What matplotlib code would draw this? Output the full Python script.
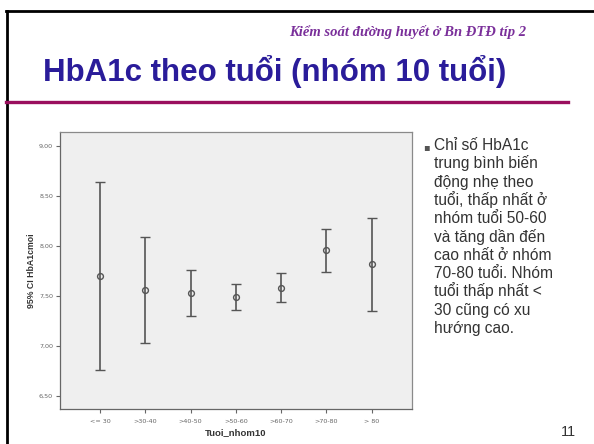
import matplotlib
matplotlib.use("Agg")
import matplotlib.pyplot as plt
from matplotlib.lines import Line2D
import numpy as np

W, H = 594, 444

categories = ["<= 30", ">30-40", ">40-50", ">50-60", ">60-70", ">70-80", "> 80"]
means = [7.70, 7.56, 7.53, 7.49, 7.58, 7.96, 7.82]
upper = [8.64, 8.09, 7.76, 7.62, 7.73, 8.17, 8.28]
lower = [6.76, 7.03, 7.30, 7.36, 7.44, 7.74, 7.35]
yticks = [6.5, 7.0, 7.5, 8.0, 8.5, 9.0]
ytick_labels = ["6,50", "7,00", "7,50", "8,00", "8,50", "9,00"]

title = "HbA1c theo tuổi (nhóm 10 tuổi)"
subtitle = "Kiểm soát đường huyết ở Bn ĐTĐ típ 2"
bullet_lines = [
    "Chỉ số HbA1c",
    "trung bình biến",
    "động nhẹ theo",
    "tuổi, thấp nhất ở",
    "nhóm tuổi 50-60",
    "và tăng dần đến",
    "cao nhất ở nhóm",
    "70-80 tuổi. Nhóm",
    "tuổi thấp nhất <",
    "30 cũng có xu",
    "hướng cao.",
]
page_no = "11"

fig = plt.figure(figsize=(W / 100, H / 100), dpi=100)
fig.patch.set_facecolor("white")


def fx(x):
    return x / W


def fy(y):
    return 1 - y / H


# slide borders
fig.add_artist(Line2D([fx(6.5), fx(6.5)], [fy(11), fy(444)], color="black", lw=2.0))
fig.add_artist(Line2D([fx(5.5), fx(594)], [fy(11), fy(11)], color="black", lw=2.0))
# purple rule under title
fig.add_artist(Line2D([fx(6), fx(568)], [fy(102), fy(102)], color="#9a0f5e", lw=2.4))

fig.text(fx(526), fy(36), subtitle, ha="right", va="baseline",
         family="Liberation Serif", style="italic", weight="bold",
         fontsize=10.5, color="#7a2f9a")
fig.text(fx(43), fy(80.5), title, ha="left", va="baseline",
         family="Liberation Sans", weight="bold", fontsize=22.5, color="#2a1c9a")

# bullet text
fig.text(fx(423), fy(150), "▪", ha="left", va="baseline",
         family="DejaVu Sans", fontsize=7, color="#555555")
for i, line in enumerate(bullet_lines):
    fig.text(fx(434), fy(150 + i * 18.3), line, ha="left", va="baseline",
             family="Liberation Sans", fontsize=11.2, color="#333333")

fig.text(fx(568), fy(436), page_no, ha="center", va="baseline",
         family="Liberation Sans", fontsize=10.5, color="#333333")

# chart axes
ax_l, ax_r, ax_t, ax_b = 60, 412, 132, 409
ax = fig.add_axes([fx(ax_l), fy(ax_b), (ax_r - ax_l) / W, (ax_b - ax_t) / H])
ax.set_facecolor("#efefef")

x = np.arange(len(categories))
means_a = np.array(means)
yerr = np.vstack([means_a - np.array(lower), np.array(upper) - means_a])
ax.errorbar(x, means_a, yerr=yerr, fmt="o", color="#555555", ecolor="#555555",
            elinewidth=1.2, capsize=3.6, capthick=1.2, markersize=4.2,
            markerfacecolor="none", markeredgecolor="#555555", markeredgewidth=1.0)

ax.set_xlim(-0.883, 6.89)
ax.set_ylim(6.37, 9.14)
ax.set_xticks(x)
ax.set_xticklabels(categories)
ax.set_yticks(yticks)
ax.set_yticklabels(ytick_labels)
ax.tick_params(axis="both", labelsize=4.6, colors="#666666", length=3, width=0.8,
               direction="out", pad=2)
ax.tick_params(axis="x", pad=4)
for s in ax.spines.values():
    s.set_color("#8a8a8a")
    s.set_linewidth(0.9)
ax.spines["left"].set_color("#666666")
ax.spines["bottom"].set_color("#666666")

fig.text(fx(236), fy(435), "Tuoi_nhom10", ha="center", va="baseline",
         family="Liberation Sans", weight="bold", fontsize=6.8, color="#333333")
fig.text(fx(31), fy(271), "95% CI HbA1cmoi", ha="center", va="center", rotation=90,
         family="Liberation Sans", weight="bold", fontsize=6.3, color="#333333")

fig.savefig("out.png", dpi=100)
